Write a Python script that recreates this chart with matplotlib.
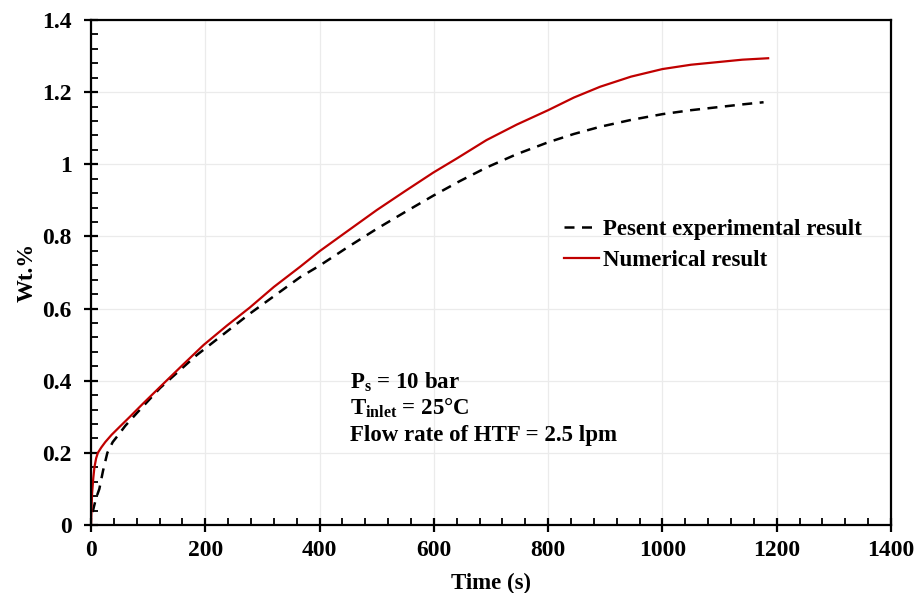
import matplotlib
matplotlib.use("Agg")
import matplotlib.pyplot as plt
from matplotlib.ticker import MultipleLocator

# Data
num_t = [0, 1, 2, 4, 6, 9, 12, 18, 25, 36, 50, 68, 90, 121, 160, 197, 238, 278, 320, 366, 400, 442,
         500, 550, 599, 640, 692, 745, 800, 845, 891, 945, 1000, 1050, 1095, 1140, 1185]
num_v = [0, 0.05, 0.09, 0.13, 0.16, 0.185, 0.20, 0.215, 0.23, 0.25, 0.272, 0.30, 0.335, 0.383, 0.443,
         0.499, 0.553, 0.603, 0.660, 0.716, 0.759, 0.807, 0.873, 0.926, 0.977, 1.016, 1.067, 1.110,
         1.150, 1.185, 1.215, 1.243, 1.264, 1.276, 1.283, 1.290, 1.294]
exp_t = [3, 5, 9, 14.6, 21, 28.6, 38, 48, 60, 80, 121, 185, 278, 366, 400, 450, 500, 550, 599, 645,
         692, 745, 800, 845, 891, 945, 1000, 1050, 1095, 1140, 1177]
exp_v = [0.036, 0.05, 0.075, 0.10, 0.15, 0.20, 0.23, 0.25, 0.275, 0.31, 0.38, 0.471, 0.586, 0.687,
         0.719, 0.771, 0.821, 0.868, 0.913, 0.953, 0.991, 1.028, 1.061, 1.084, 1.104, 1.123, 1.139,
         1.150, 1.158, 1.166, 1.172]

plt.rcParams['font.family'] = ['Liberation Serif', 'DejaVu Serif']
plt.rcParams['font.weight'] = 'bold'
plt.rcParams['mathtext.fontset'] = 'custom'
plt.rcParams['mathtext.rm'] = 'Liberation Serif:bold'
plt.rcParams['mathtext.bf'] = 'Liberation Serif:bold'
plt.rcParams['mathtext.it'] = 'Liberation Serif:bold'

fig = plt.figure(figsize=(9.16, 5.93), dpi=100)
ax = fig.add_axes([91/916, 68/593, 800/916, 505/593])

ax.plot(exp_t, exp_v, color='black', linestyle=(0, (4, 3)), linewidth=1.8, label='Pesent experimental result')
ax.plot(num_t, num_v, color='#c00000', linewidth=1.6, label='Numerical result')

ax.set_xlim(0, 1400)
ax.set_ylim(0, 1.4)
ax.xaxis.set_major_locator(MultipleLocator(200))
ax.xaxis.set_minor_locator(MultipleLocator(40))
ax.yaxis.set_minor_locator(MultipleLocator(0.04))
ax.set_yticks([0, 0.2, 0.4, 0.6, 0.8, 1.0, 1.2, 1.4])
ax.set_yticklabels(['0', '0.2', '0.4', '0.6', '0.8', '1', '1.2', '1.4'])

ax.grid(True, which='major', color='#ebebeb', linewidth=0.9)
ax.set_axisbelow(True)
for s in ax.spines.values():
    s.set_linewidth(1.6)
ax.tick_params(which='major', direction='inout', length=10, width=1.6, labelsize=17)
ax.tick_params(axis='y', which='major', pad=9)
ax.tick_params(axis='x', which='major', pad=6)
ax.tick_params(which='minor', direction='in', length=5, width=1.3)
for lab in ax.get_xticklabels() + ax.get_yticklabels():
    lab.set_fontweight('bold')

ax.set_xlabel('Time (s)', fontsize=16.5, fontweight='bold', labelpad=8)
ax.set_ylabel('Wt.%', fontsize=16.5, fontweight='bold', labelpad=3)

leg = ax.legend(loc='upper left', bbox_to_anchor=(0.565, 0.646), frameon=False,
                prop={'family': 'Liberation Serif', 'weight': 'bold', 'size': 16.5},
                handlelength=1.55, handletextpad=0.15, labelspacing=0.4)

ax.text(0.3237, 0.2707, r'$\mathbf{P_{s}}$ = 10 bar', transform=ax.transAxes, fontsize=16.5,
        fontweight='bold', va='baseline')
ax.text(0.3237, 0.2192, r'$\mathbf{T_{inlet}}$ = 25°C', transform=ax.transAxes, fontsize=16.5,
        fontweight='bold', va='baseline')
ax.text(0.3237, 0.1663, 'Flow rate of HTF = 2.5 lpm', transform=ax.transAxes, fontsize=16.5,
        fontweight='bold', va='baseline')

fig.savefig('out.png', dpi=100)
